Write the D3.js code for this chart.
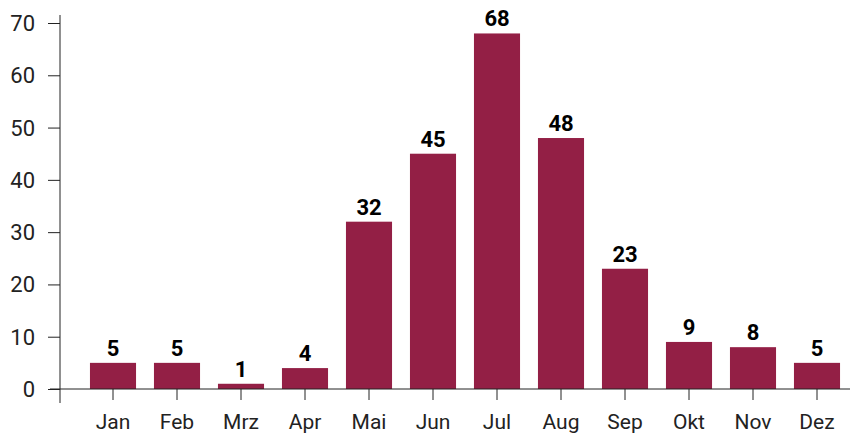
<!DOCTYPE html>
<meta charset="utf-8" />
<script src="https://d3js.org/d3.v7.min.js"></script>
<style>
  body { margin: 0; background: #fff; }
  text { font-family: Roboto, "Open Sans", sans-serif; }
</style>
<div id="chart"></div>
<script>
  // data
  const months = ["Jan", "Feb", "Mrz", "Apr", "Mai", "Jun", "Jul", "Aug", "Sep", "Okt", "Nov", "Dez"];
  const counts = [5, 5, 1, 4, 32, 45, 68, 48, 23, 9, 8, 5];
  const yTicks = [0, 10, 20, 30, 40, 50, 60, 70];

  const W = 850, H = 434;
  const barColor = "#931f45";

  const svg = d3.select("#chart").append("svg")
    .attr("width", W)
    .attr("height", H);

  const x = d3.scaleBand()
    .domain(months)
    .range([81, 849])
    .paddingInner(0.28)
    .paddingOuter(0.14);

  const y = d3.scaleLinear()
    .domain([0, 70])
    .range([389, 23]);

  // bars
  svg.selectAll("rect.bar")
    .data(counts)
    .join("rect")
    .attr("class", "bar")
    .attr("x", (d, i) => x(months[i]))
    .attr("y", d => y(d))
    .attr("width", x.bandwidth())
    .attr("height", d => y(0) - y(d))
    .attr("fill", barColor);

  // value labels
  svg.selectAll("text.val")
    .data(counts)
    .join("text")
    .attr("class", "val")
    .attr("x", (d, i) => x(months[i]) + x.bandwidth() / 2)
    .attr("y", d => y(d) - 7)
    .attr("text-anchor", "middle")
    .style("font-size", "22px")
    .style("font-weight", "bold")
    .attr("fill", "#000")
    .text(d => d);

  // y axis
  const yAxis = svg.append("g")
    .attr("transform", "translate(60,0)")
    .call(d3.axisLeft(y).tickValues(yTicks).tickSize(12).tickPadding(13));
  yAxis.select(".domain").remove();
  yAxis.append("line")
    .attr("x1", 0).attr("x2", 0)
    .attr("y1", 15).attr("y2", 403)
    .attr("stroke", "#222");
  yAxis.selectAll(".tick line").attr("stroke", "#222");
  yAxis.selectAll(".tick text")
    .style("font-size", "22px")
    .attr("fill", "#222")
    .attr("dy", "0.34em");

  // x axis
  const xAxis = svg.append("g")
    .attr("transform", `translate(0,${y(0)})`)
    .call(d3.axisBottom(x).tickSize(11).tickPadding(14));
  xAxis.select(".domain").remove();
  xAxis.append("line")
    .attr("x1", 50).attr("x2", 850)
    .attr("y1", 0).attr("y2", 0)
    .attr("stroke", "#222");
  xAxis.selectAll(".tick line").attr("stroke", "#222");
  xAxis.selectAll(".tick text")
    .style("font-size", "21px")
    .attr("fill", "#222");
</script>
